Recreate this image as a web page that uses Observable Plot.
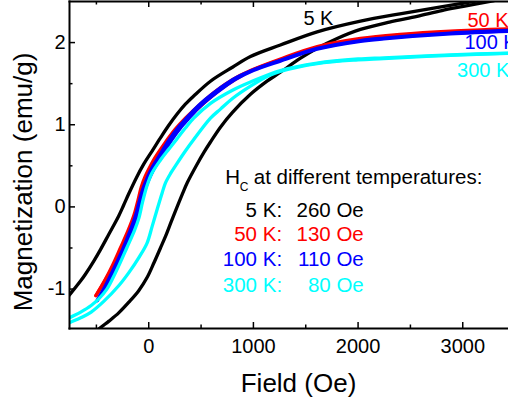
<!DOCTYPE html>
<html><head><meta charset="utf-8">
<script src="https://cdn.jsdelivr.net/npm/d3@7"></script>
<script src="https://cdn.jsdelivr.net/npm/@observablehq/plot@0.6"></script>
<style>body{margin:0;background:#fff;} #chart svg{font-family:"Liberation Sans",Arial,sans-serif;}</style>
</head><body><div id="chart"></div><script>
// ---- data (Field in Oe, Magnetization in emu/g) ----
const f5Kdown = [-800,-757,-650,-605,-525,-461,-380,-287,-240,-191,-120,-48,32,112,190,271,350,430,590,800,972,1258,1609,2023,2400,2722,3006,3300];
const m5Kdown = [-1.13,-1.07,-0.90,-0.82,-0.66,-0.52,-0.33,-0.11,0.02,0.16,0.35,0.52,0.68,0.84,0.99,1.13,1.25,1.35,1.53,1.70,1.83,1.97,2.13,2.26,2.35,2.42,2.48,2.54];
const f5Kup = [-540,-471,-380,-287,-190,-96,-16,50,112,160,215,271,319,370,462,530,590,685,800,972,1130,1258,1450,1609,1800,2023,2300,2564,2800,3006,3300];
const m5Kup = [-1.56,-1.48,-1.39,-1.29,-1.16,-1.02,-0.86,-0.68,-0.50,-0.36,-0.18,0.0,0.15,0.30,0.52,0.67,0.79,0.97,1.15,1.37,1.53,1.64,1.81,1.93,2.05,2.16,2.25,2.32,2.39,2.44,2.51];

const f50Kdown = [-505,-422,-342,-271,-198,-141,-103,-72,-34,4,60,150,250,350,500,650,800,972,1258,1609,2023,2400,2882,3500];
const m50Kdown = [-1.08,-0.90,-0.70,-0.50,-0.29,-0.10,0.08,0.24,0.37,0.47,0.60,0.77,0.94,1.08,1.26,1.42,1.55,1.66,1.80,1.95,2.05,2.10,2.14,2.17];
const f50Kup = [-505,-434,-330,-256,-184,-127,-89,-57,-17,24,82,175,275,375,525,675,825,1000,1258,1609,2023,2400,2882,3500];
const m50Kup = [-1.08,-0.93,-0.70,-0.50,-0.29,-0.10,0.06,0.22,0.35,0.46,0.60,0.77,0.94,1.08,1.26,1.42,1.55,1.67,1.79,1.94,2.04,2.09,2.13,2.165];

const f100Kdown = [-493,-415,-330,-250,-187,-130,-92,-58,-22,20,90,197,290,360,440,515,675,800,972,1258,1609,2023,2245,2882,3500];
const m100Kdown = [-1.14,-0.96,-0.74,-0.52,-0.32,-0.12,0.06,0.21,0.33,0.45,0.60,0.82,0.98,1.08,1.19,1.28,1.44,1.55,1.655,1.785,1.93,2.025,2.055,2.115,2.15];
const f100Kup = [-493,-400,-306,-230,-163,-108,-70,-36,0,45,115,222,315,385,465,540,700,825,1000,1258,1609,2023,2245,2882,3500];
const m100Kup = [-1.14,-0.96,-0.74,-0.52,-0.32,-0.12,0.06,0.21,0.33,0.45,0.60,0.82,0.98,1.08,1.19,1.28,1.44,1.55,1.66,1.775,1.92,2.015,2.045,2.105,2.14];

const f300Kdown = [-800,-757,-650,-550,-478,-400,-340,-280,-210,-137,-95,-57,-16,30,112,190,271,350,430,590,800,972,1258,1609,2000,2245,2882,3500];
const m300Kdown = [-1.39,-1.35,-1.28,-1.20,-1.12,-1.00,-0.86,-0.70,-0.50,-0.29,-0.14,0.07,0.26,0.41,0.57,0.70,0.83,0.96,1.08,1.26,1.42,1.52,1.66,1.75,1.80,1.815,1.85,1.875];
const f300Kup = [-800,-757,-650,-550,-430,-287,-190,-96,-16,32,85,128,159,210,271,350,430,590,685,800,972,1150,1258,1609,2000,2245,2882,3500];
const m300Kup = [-1.44,-1.41,-1.35,-1.28,-1.15,-0.96,-0.80,-0.62,-0.44,-0.24,-0.01,0.17,0.29,0.41,0.53,0.68,0.82,1.08,1.19,1.32,1.47,1.60,1.65,1.745,1.79,1.805,1.845,1.87];

const xTicks = [0, 1000, 2000, 3000];
const xMinor = [-500, 500, 1500, 2500];
const yTicks = [-1, 0, 1, 2];
const yMinor = [-0.5, 0.5, 1.5];

const curveLabels = [
  {text: "5 K", field: 1478, m: 2.21, color: "#000000"},
  {text: "50 K", field: 3045, m: 2.195, color: "#ff0000"},
  {text: "100 K", field: 3016, m: 1.924, color: "#0000ff"},
  {text: "300 K", field: 2946, m: 1.579, color: "#00ffff"}
];
const hcTemps = ["5 K:", "50 K:", "100 K:", "300 K:"];
const hcValues = ["260 Oe", "130 Oe", "110 Oe", "80 Oe"];
const hcRowM = [-0.117, -0.418, -0.725, -1.03];
const hcColors = ["#000000", "#ff0000", "#0000ff", "#00ffff"];

// ---- build tables ----
const branches = [
  [f5Kdown, m5Kdown, "#000000"], [f5Kup, m5Kup, "#000000"],
  [f50Kdown, m50Kdown, "#ff0000"], [f50Kup, m50Kup, "#ff0000"],
  [f100Kdown, m100Kdown, "#0000ff"], [f100Kup, m100Kup, "#0000ff"],
  [f300Kdown, m300Kdown, "#00ffff"], [f300Kup, m300Kup, "#00ffff"]
];
const toRows = (fs, ms) => fs.map((f, i) => ({field: f, m: ms[i]}));
const hcRows = hcTemps.map((t, i) => ({t, v: hcValues[i], m: hcRowM[i], color: hcColors[i]}));

const W = 508, H = 402, mL = 69, mR = 0, mT = 1, mB = 74;
const frameH = H - mT - mB, frameW = W - mL - mR;

const lineMarks = branches.map(([fs, ms, c]) =>
  Plot.line(toRows(fs, ms), {x: "field", y: "m", stroke: c, strokeWidth: 3.3, curve: "catmull-rom", clip: true, strokeLinejoin: "round"}));

const chart = Plot.plot({
  width: W, height: H,
  marginLeft: mL, marginRight: mR, marginTop: mT, marginBottom: mB,
  x: {domain: [-757, 3437], label: null},
  y: {domain: [-1.48, 2.5], label: null},
  style: {background: "white", fontFamily: "Liberation Sans, Arial, sans-serif", fontSize: "20px", color: "black"},
  marks: [
    ...lineMarks,
    // inward ticks
    Plot.ruleX(xTicks, {x: d => d, insetTop: frameH - 6, strokeWidth: 1.5}),
    Plot.ruleX(xMinor, {x: d => d, insetTop: frameH - 3.5, strokeWidth: 1.5}),
    Plot.ruleX(xTicks, {x: d => d, insetBottom: frameH - 6, strokeWidth: 1.5}),
    Plot.ruleX(xMinor, {x: d => d, insetBottom: frameH - 3.5, strokeWidth: 1.5}),
    Plot.ruleY(yTicks, {y: d => d, insetRight: frameW - 6, strokeWidth: 1.5}),
    Plot.ruleY(yMinor, {y: d => d, insetRight: frameW - 3.5, strokeWidth: 1.5}),
    // frame edges
    Plot.frame({anchor: "left", strokeWidth: 2}),
    Plot.frame({anchor: "bottom", strokeWidth: 2}),
    Plot.frame({anchor: "top", strokeWidth: 2}),
    // tick labels
    Plot.axisX(xTicks, {tickSize: 0, tickPadding: 10, fontSize: 20, tickFormat: d => String(d), label: null}),
    Plot.axisY(yTicks, {tickSize: 0, tickPadding: 4, fontSize: 20, tickFormat: d => String(d), label: null}),
    // axis titles
    Plot.text(["Field (Oe)"], {frameAnchor: "bottom", textAnchor: "middle", dx: 9.5, dy: 63.7, lineAnchor: "bottom", fontSize: 26, fill: "black"}),
    Plot.text(["Magnetization (emu/g)"], {frameAnchor: "left", textAnchor: "middle", rotate: -90, dx: -38, dy: 17, lineAnchor: "bottom", fontSize: 26, fill: "black"}),
    // curve labels
    Plot.text(curveLabels, {x: "field", y: "m", text: "text", fill: "color", textAnchor: "start", lineAnchor: "bottom", fontSize: 20}),
    // Hc annotation
    Plot.text(["H"], {x: 732, y: 0.281, textAnchor: "start", lineAnchor: "bottom", fontSize: 20.5, fill: "black"}),
    Plot.text(["C"], {x: 869, y: 0.191, textAnchor: "start", lineAnchor: "bottom", fontSize: 12, fill: "black"}),
    Plot.text(["at different temperatures:"], {x: 1003, y: 0.281, textAnchor: "start", lineAnchor: "bottom", fontSize: 20.5, fill: "black"}),
    Plot.text(hcRows, {x: 1274, y: "m", text: "t", fill: "color", textAnchor: "end", lineAnchor: "bottom", fontSize: 20.5}),
    Plot.text(hcRows, {x: 2054, y: "m", text: "v", fill: "color", textAnchor: "end", lineAnchor: "bottom", fontSize: 20.5})
  ]
});
document.getElementById("chart").appendChild(chart);
</script></body></html>
